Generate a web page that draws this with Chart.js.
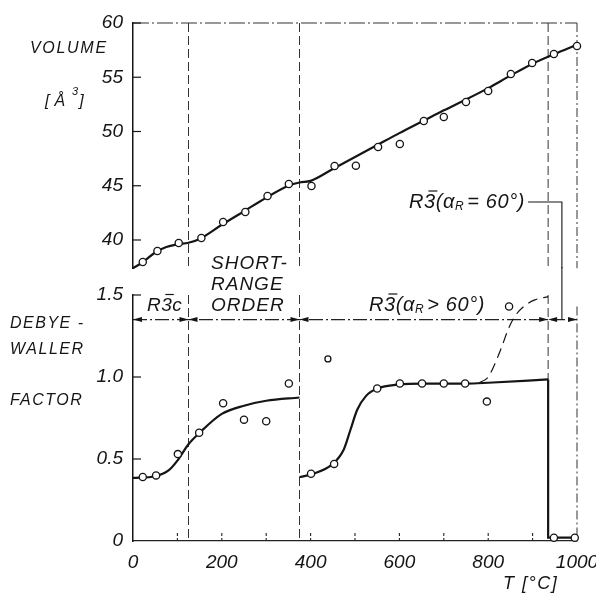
<!DOCTYPE html>
<html>
<head>
<meta charset="utf-8">
<script src="https://cdn.jsdelivr.net/npm/chart.js@4.4.1/dist/chart.umd.min.js"></script>
<style>
  html, body { margin: 0; padding: 0; background: #fff; }
  #wrap { position: relative; width: 596px; height: 597px; }
  canvas { position: absolute; left: 0; top: 0; }
</style>
</head>
<body>
<div id="wrap">
  <canvas id="volumeChart" width="596" height="597"></canvas>
  <canvas id="dwChart" width="596" height="597"></canvas>
</div>
<script>
// volume, measured points
const volTemp = [22, 55, 103, 154, 203, 253, 303, 351, 402, 454, 502, 552, 601, 655, 700, 750, 800, 851, 899, 948, 1000];
const volValue = [37.97, 38.99, 39.72, 40.18, 41.66, 42.58, 44.06, 45.16, 44.98, 46.82, 46.85, 48.57, 48.85, 50.97, 51.34, 52.72, 53.73, 55.3, 56.31, 57.14, 57.88];
// volume, drawn curve
const volCurveTemp = [0, 22, 50, 75, 100, 125, 150, 200, 250, 300, 350, 375, 400, 450, 500, 550, 600, 650, 700, 750, 800, 850, 900, 950, 1000];
const volCurveValue = [37.4, 37.95, 38.85, 39.35, 39.6, 39.75, 40.1, 41.4, 42.65, 43.9, 45.0, 45.3, 45.45, 46.55, 47.65, 48.75, 49.85, 50.9, 51.95, 52.95, 54.0, 55.15, 56.25, 57.15, 58.0];

// Debye-Waller factor, measured points
const dwTemp = [22, 52, 101, 149, 203, 250, 300, 351, 401, 453, 550, 601, 651, 700, 748, 797, 847, 948, 995];
const dwValue = [0.39, 0.40, 0.53, 0.66, 0.84, 0.74, 0.73, 0.96, 0.41, 0.47, 0.93, 0.96, 0.96, 0.96, 0.96, 0.85, 1.43, 0.02, 0.02];
const dwStrayTemp = [439];
const dwStrayValue = [1.11];
// Debye-Waller factor, drawn curves
const dwLowTemp = [0, 50, 80, 100, 125, 150, 200, 250, 300, 375];
const dwLowValue = [0.385, 0.395, 0.43, 0.49, 0.59, 0.66, 0.775, 0.825, 0.855, 0.875];
const dwHighTemp = [375, 400, 450, 475, 490, 505, 525, 550, 600, 650, 700, 750, 800, 935];
const dwHighValue = [0.39, 0.405, 0.47, 0.56, 0.68, 0.80, 0.885, 0.93, 0.955, 0.96, 0.96, 0.96, 0.965, 0.985];
const dwDropTemp = [935, 935, 1000];
const dwDropValue = [0.985, 0.02, 0.02];
const dwDashTemp = [780, 800, 815, 830, 845, 860, 880, 905, 935];
const dwDashValue = [0.965, 1.0, 1.08, 1.18, 1.29, 1.37, 1.43, 1.47, 1.49];

// phase boundaries and ticks
const phaseBounds = [125, 375, 935];
const phaseArrowLevel = 1.35;
const r3Label60Temp = 966;
const volTicks = [40, 45, 50, 55, 60];
const dwTicks = [0, 0.5, 1.0, 1.5];
const tempTicks = [0, 200, 400, 600, 800, 1000];
const tempMinorTicks = [100, 200, 300, 400, 500, 600, 700, 800, 900];

const FONT = '"Liberation Sans", Arial, sans-serif';
const INK = '#151515';

function pts(xs, ys) {
  return xs.map((x, i) => ({ x: x, y: ys[i] }));
}

function drawParts(ctx, x, cy, parts, spacing) {
  let cx = x;
  ctx.letterSpacing = (spacing || 0) + 'px';
  parts.forEach(p => {
    ctx.font = 'italic ' + p.size + 'px ' + FONT;
    const base = cy + (p.base || 0.36) * p.size;
    const y = base + (p.dy || 0);
    const w = ctx.measureText(p.t).width;
    ctx.fillText(p.t, cx, y);
    if (p.bar) {
      ctx.beginPath();
      ctx.lineWidth = 1.2;
      const top = y - p.size * 0.86;
      ctx.moveTo(cx + p.size * 0.22, top);
      ctx.lineTo(cx + w + p.size * 0.08, top);
      ctx.stroke();
    }
    cx += w + (p.gap || 0);
  });
  ctx.letterSpacing = '0px';
  return cx;
}

function vline(ctx, x, y1, y2, dash, width) {
  ctx.save();
  ctx.beginPath();
  ctx.setLineDash(dash);
  ctx.lineWidth = width || 1;
  ctx.strokeStyle = '#333';
  ctx.moveTo(x, y1);
  ctx.lineTo(x, y2);
  ctx.stroke();
  ctx.restore();
}

function arrowHead(ctx, tipX, y, dir) {
  ctx.beginPath();
  ctx.moveTo(tipX, y);
  ctx.lineTo(tipX - dir * 9, y - 2.5);
  ctx.lineTo(tipX - dir * 9, y + 2.5);
  ctx.closePath();
  ctx.fill();
}

function inwardTicks(ctx, scale, values, left) {
  ctx.save();
  ctx.strokeStyle = INK;
  ctx.lineWidth = 1.2;
  values.forEach(v => {
    const y = scale.getPixelForValue(v);
    ctx.beginPath();
    ctx.moveTo(left, y);
    ctx.lineTo(left + 8, y);
    ctx.stroke();
  });
  ctx.restore();
}

const volumeDecor = {
  id: 'volumeDecor',
  beforeDatasetsDraw(chart) {
    const { ctx, chartArea: a, scales: { x, y } } = chart;
    phaseBounds.forEach(t => vline(ctx, x.getPixelForValue(t), a.top, a.bottom, [9, 4]));
    vline(ctx, x.getPixelForValue(1000), a.top, a.bottom, [9, 3, 2, 3]);
    ctx.save();
    ctx.beginPath();
    ctx.setLineDash([16, 3, 2, 3]);
    ctx.strokeStyle = '#333';
    ctx.lineWidth = 1.1;
    ctx.moveTo(a.left, y.getPixelForValue(60));
    ctx.lineTo(x.getPixelForValue(1000), y.getPixelForValue(60));
    ctx.stroke();
    ctx.restore();
    inwardTicks(ctx, y, volTicks, a.left);
  },
  afterDraw(chart) {
    const { ctx, chartArea: a, scales: { x, y } } = chart;
    ctx.save();
    ctx.fillStyle = INK;
    ctx.strokeStyle = INK;
    ctx.textBaseline = 'alphabetic';
    drawParts(ctx, 30, 47, [{ t: 'VOLUME', size: 16 }], 1.7);
    drawParts(ctx, 45, 100, [
      { t: '[', size: 16, gap: 4 },
      { t: 'Å', size: 16, gap: 6 },
      { t: '3', size: 11, dy: -9, gap: 0 },
      { t: ']', size: 16 }
    ], 1);
    drawParts(ctx, 211, 262, [{ t: 'SHORT-', size: 19 }], 1);
    drawParts(ctx, 211, 283, [{ t: 'RANGE', size: 19 }], 1);
    const end = drawParts(ctx, 409, 201, [
      { t: 'R', size: 20 },
      { t: '3', size: 20, bar: true },
      { t: '(α', size: 20 },
      { t: 'R', size: 12, dy: 5, gap: 3 },
      { t: '= 60°)', size: 20 }
    ], 0.6);
    const cx = x.getPixelForValue(r3Label60Temp);
    ctx.beginPath();
    ctx.lineWidth = 1.1;
    ctx.moveTo(end + 3, 202);
    ctx.lineTo(cx, 202);
    ctx.lineTo(cx, a.bottom);
    ctx.stroke();
    ctx.restore();
  }
};

const dwDecor = {
  id: 'dwDecor',
  beforeDatasetsDraw(chart) {
    const { ctx, chartArea: a, scales: { x, y } } = chart;
    phaseBounds.forEach(t => vline(ctx, x.getPixelForValue(t), a.top, a.bottom, [9, 4]));
    vline(ctx, x.getPixelForValue(1000), y.getPixelForValue(1.43), a.bottom, [9, 3, 2, 3]);
    // minor ticks on the temperature axis
    ctx.save();
    ctx.strokeStyle = '#222';
    ctx.lineWidth = 1.1;
    ctx.setLineDash([3, 2]);
    tempMinorTicks.forEach(t => {
      const px = x.getPixelForValue(t);
      ctx.beginPath();
      ctx.moveTo(px, a.bottom);
      ctx.lineTo(px, a.bottom - 9);
      ctx.stroke();
    });
    ctx.restore();
    inwardTicks(ctx, y, dwTicks.slice(1), a.left);
    // phase ranges with arrows
    const ay = y.getPixelForValue(phaseArrowLevel);
    ctx.save();
    ctx.beginPath();
    ctx.setLineDash([14, 3, 2, 3]);
    ctx.strokeStyle = '#222';
    ctx.lineWidth = 1.1;
    ctx.moveTo(a.left, ay);
    ctx.lineTo(x.getPixelForValue(1000), ay);
    ctx.stroke();
    ctx.setLineDash([]);
    ctx.fillStyle = INK;
    const edges = [0].concat(phaseBounds, [1000]);
    edges.forEach((t, i) => {
      const px = x.getPixelForValue(t);
      if (i > 0) arrowHead(ctx, px, ay, 1);
      if (i < edges.length - 1) arrowHead(ctx, px, ay, -1);
    });
    ctx.restore();
  },
  afterDraw(chart) {
    const { ctx, chartArea: a, scales: { x, y } } = chart;
    ctx.save();
    ctx.fillStyle = INK;
    ctx.strokeStyle = INK;
    ctx.textBaseline = 'alphabetic';
    drawParts(ctx, 10, 322, [{ t: 'DEBYE -', size: 16 }], 1.5);
    drawParts(ctx, 10, 348, [{ t: 'WALLER', size: 16 }], 1.5);
    drawParts(ctx, 10, 399, [{ t: 'FACTOR', size: 16 }], 1.5);
    drawParts(ctx, 211, 304, [{ t: 'ORDER', size: 19 }], 1);
    drawParts(ctx, 147, 304, [
      { t: 'R', size: 19 },
      { t: '3', size: 19, bar: true },
      { t: 'c', size: 19 }
    ], 0.5);
    drawParts(ctx, 369, 304, [
      { t: 'R', size: 20 },
      { t: '3', size: 20, bar: true },
      { t: '(α', size: 20 },
      { t: 'R', size: 12, dy: 5, gap: 3 },
      { t: '> 60°)', size: 20 }
    ], 0.6);
    drawParts(ctx, 503, 583, [{ t: 'T [°C]', size: 18 }], 1.5);
    // connector from the R3(aR = 60) label
    const cx = x.getPixelForValue(r3Label60Temp);
    ctx.beginPath();
    ctx.lineWidth = 1.1;
    ctx.moveTo(cx, a.top - 28);
    ctx.lineTo(cx, y.getPixelForValue(phaseArrowLevel));
    ctx.stroke();
    ctx.restore();
  }
};

const pointStyle = {
  showLine: false,
  pointRadius: 3.6,
  pointBorderWidth: 1.3,
  pointBackgroundColor: '#fff',
  pointBorderColor: INK,
  clip: false,
  order: 0
};

const curveStyle = {
  borderColor: INK,
  borderWidth: 2.2,
  pointRadius: 0,
  cubicInterpolationMode: 'monotone',
  fill: false,
  clip: false,
  order: 1
};

const tickFont = { family: FONT, size: 19, style: 'italic' };

function yScale(min, max, values) {
  return {
    type: 'linear',
    min: min,
    max: max,
    afterBuildTicks: s => { s.ticks = values.map(v => ({ value: v })); },
    afterFit: s => { s.width = 133; s.paddingTop = 0; s.paddingBottom = 0; },
    grid: { display: false, drawTicks: false },
    border: { display: true, color: INK, width: 1.5 },
    ticks: {
      padding: 10,
      color: INK,
      font: tickFont,
      callback: v => (values === dwTicks && v !== 0) ? v.toFixed(1) : String(v)
    }
  };
}

const common = {
  responsive: false,
  animation: false,
  events: [],
  plugins: { legend: { display: false }, tooltip: { enabled: false } }
};

new Chart(document.getElementById('volumeChart').getContext('2d'), {
  type: 'line',
  data: {
    datasets: [
      Object.assign({ data: pts(volTemp, volValue) }, pointStyle),
      Object.assign({ data: pts(volCurveTemp, volCurveValue) }, curveStyle)
    ]
  },
  options: Object.assign({}, common, {
    layout: { padding: { top: 23, right: 19, left: 0, bottom: 328.8 } },
    scales: {
      x: { type: 'linear', min: 0, max: 1000, display: false },
      y: yScale(37.4, 60, volTicks)
    }
  }),
  plugins: [volumeDecor]
});

new Chart(document.getElementById('dwChart').getContext('2d'), {
  type: 'line',
  data: {
    datasets: [
      Object.assign({ data: pts(dwTemp, dwValue) }, pointStyle),
      Object.assign({ data: pts(dwStrayTemp, dwStrayValue) }, pointStyle, { pointRadius: 3 }),
      Object.assign({ data: pts(dwLowTemp, dwLowValue) }, curveStyle),
      Object.assign({ data: pts(dwHighTemp, dwHighValue) }, curveStyle),
      Object.assign({ data: pts(dwDropTemp, dwDropValue) }, curveStyle, { cubicInterpolationMode: 'default', tension: 0 }),
      Object.assign({ data: pts(dwDashTemp, dwDashValue) }, curveStyle, { borderWidth: 1.2, borderDash: [10, 6] })
    ]
  },
  options: Object.assign({}, common, {
    layout: { padding: { top: 295, right: 19, left: 0, bottom: 0 } },
    scales: {
      x: {
        type: 'linear',
        min: 0,
        max: 1000,
        afterBuildTicks: s => { s.ticks = tempTicks.map(v => ({ value: v })); },
        afterFit: s => { s.height = 56; s.paddingLeft = 0; s.paddingRight = 0; },
        grid: { display: false, drawTicks: false },
        border: { display: true, color: '#222', width: 1.2, dash: [14, 3, 2, 3] },
        ticks: {
          padding: 10,
          color: INK,
          font: tickFont,
          maxRotation: 0,
          autoSkip: false,
          callback: v => String(v)
        }
      },
      y: yScale(0, 1.5, dwTicks)
    }
  }),
  plugins: [dwDecor]
});
</script>
</body>
</html>
